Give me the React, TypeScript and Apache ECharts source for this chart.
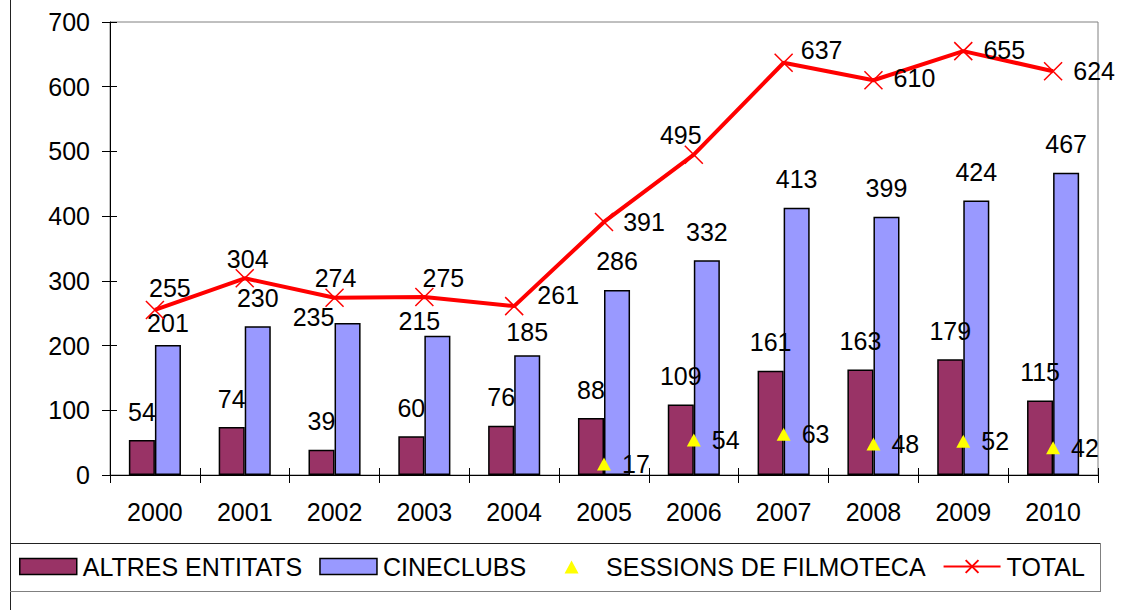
import React, { useEffect, useRef } from "react";
import * as echarts from "echarts";

const years = ["2000", "2001", "2002", "2003", "2004", "2005", "2006", "2007", "2008", "2009", "2010"];
const altres = [54, 74, 39, 60, 76, 88, 109, 161, 163, 179, 115];
const cineclubs = [201, 230, 235, 215, 185, 286, 332, 413, 399, 424, 467];
const sessions: (number | string)[] = ["-", "-", "-", "-", "-", 17, 54, 63, 48, 52, 42];
const total = [255, 304, 274, 275, 261, 391, 495, 637, 610, 655, 624];

const seriesNames = ["ALTRES ENTITATS", "CINECLUBS", "SESSIONS DE FILMOTECA", "TOTAL"];

// label placement tweaks (styling only)
const totalLabelOffsets: [number, number][] = [
  [15, -22], [3, -19], [1, -20], [19, -19], [44, -11], [40, 0],
  [-13, -20], [38, -13], [41, -2], [41, -1], [41, 0],
];
const cineLabelOffsets: Record<string, [number, number]> = {
  "2000": [0, 7],
  "2002": [-34, 23],
  "2003": [-18, 14],
  "2004": [0, 5],
};

// legend triangle icon kept small inside a 57x16 icon box
const triangleIcon =
  "path://M0,0L0.01,0M57,16L57.01,16M21.5,15L28.5,2L35.5,15Z";

const FONT = "'Liberation Sans', Arial, sans-serif";
const FS = 25;

export default function App() {
  const ref = useRef<HTMLDivElement>(null);
  useEffect(() => {
    document.body.style.margin = "0";
    const chart = echarts.init(ref.current!, null, { renderer: "svg" });
    const labelBase = { show: true, color: "#000", fontFamily: FONT, fontSize: FS };
    const option: any = {
      animation: false,
      backgroundColor: "#fff",
      textStyle: { fontFamily: FONT },
      grid: {
        left: 110, right: 24, top: 22, bottom: 135,
        show: true, borderColor: "#808080", borderWidth: 1, backgroundColor: "transparent",
      },
      xAxis: [
        {
          type: "category", data: years,
          axisLine: { lineStyle: { color: "#000", width: 1 } },
          axisTick: { show: true, length: 8, alignWithLabel: false, lineStyle: { color: "#000" } },
          axisLabel: { color: "#000", fontFamily: FONT, fontSize: FS, margin: 24 },
          splitLine: { show: false },
        },
        {
          type: "category", data: years, position: "bottom",
          axisLine: { show: false },
          axisTick: { show: true, inside: true, length: 7, lineStyle: { color: "#000" } },
          axisLabel: { show: false },
          splitLine: { show: false },
        },
      ],
      yAxis: [
        {
          type: "value", min: 0, max: 700, interval: 100,
          axisLine: { show: true, lineStyle: { color: "#000", width: 1 } },
          axisTick: { show: true, length: 8, lineStyle: { color: "#000" } },
          axisLabel: { color: "#000", fontFamily: FONT, fontSize: FS, margin: 20 },
          splitLine: { show: false },
        },
        {
          type: "value", min: 0, max: 700, interval: 100, position: "left",
          axisLine: { show: false },
          axisTick: { show: true, inside: true, length: 7, lineStyle: { color: "#000" } },
          axisLabel: { show: false },
          splitLine: { show: false },
        },
      ],
      legend: {
        left: 19, top: 554, padding: 0,
        itemWidth: 57, itemHeight: 16, itemGap: 17,
        textStyle: { color: "#000", fontFamily: FONT, fontSize: FS, padding: [0, 0, 0, 1] },
        data: [
          { name: seriesNames[0], icon: "rect", itemStyle: { borderColor: "#000", borderWidth: 1.5 } },
          { name: seriesNames[1], icon: "rect", itemStyle: { borderColor: "#000", borderWidth: 1.5 } },
          {
            name: seriesNames[2], icon: triangleIcon,
            itemStyle: { color: "#FFFF00", borderWidth: 0, opacity: 1 },
          },
          { name: seriesNames[3] },
        ],
      },
      series: [
        {
          name: seriesNames[0], type: "bar", data: altres,
          barGap: "0%", barCategoryGap: "42%",
          itemStyle: { color: "#993366", borderColor: "#000", borderWidth: 1.5 },
          label: { ...labelBase, position: "top", distance: 16 },
        },
        {
          name: seriesNames[1], type: "bar",
          data: cineclubs.map((v, i) => {
            const off = cineLabelOffsets[years[i]];
            return off ? { value: v, label: { offset: off } } : v;
          }),
          barGap: "0%", barCategoryGap: "42%",
          itemStyle: { color: "#9999FF", borderColor: "#000", borderWidth: 1.5 },
          label: { ...labelBase, position: "top", distance: 16 },
        },
        {
          name: seriesNames[2], type: "scatter", data: sessions,
          symbol: "triangle", symbolSize: [14, 13],
          itemStyle: { color: "#FFFF00", opacity: 1 },
          label: { ...labelBase, position: "right", distance: 11 },
          z: 5,
        },
        {
          name: seriesNames[3], type: "line",
          data: total.map((v, i) => ({ value: v, label: { offset: totalLabelOffsets[i] } })),
          symbol: "path://M0,0L10,10M10,0L0,10", symbolSize: 18,
          showAllSymbol: true,
          lineStyle: { color: "#FF0000", width: 4 },
          itemStyle: { color: "#FF0000", borderColor: "#FF0000", borderWidth: 1.5 },
          label: { ...labelBase, position: "inside" },
          z: 6,
        },
      ],
      graphic: [
        { type: "line", shape: { x1: 10.5, y1: 0, x2: 10.5, y2: 610 }, style: { stroke: "#222", lineWidth: 1 }, silent: true },
        { type: "line", shape: { x1: 10, y1: 543.5, x2: 1100, y2: 543.5 }, style: { stroke: "#222", lineWidth: 1 }, silent: true },
        { type: "line", shape: { x1: 10, y1: 591.5, x2: 1100.5, y2: 591.5 }, style: { stroke: "#808080", lineWidth: 1 }, silent: true },
        { type: "line", shape: { x1: 1100.5, y1: 543, x2: 1100.5, y2: 592 }, style: { stroke: "#808080", lineWidth: 1 }, silent: true },
      ],
    };
    chart.setOption(option);
    return () => chart.dispose();
  }, []);
  return (
    <div
      ref={ref}
      style={{ position: "fixed", left: 0, top: 0, width: 1122, height: 610 }}
    />
  );
}
